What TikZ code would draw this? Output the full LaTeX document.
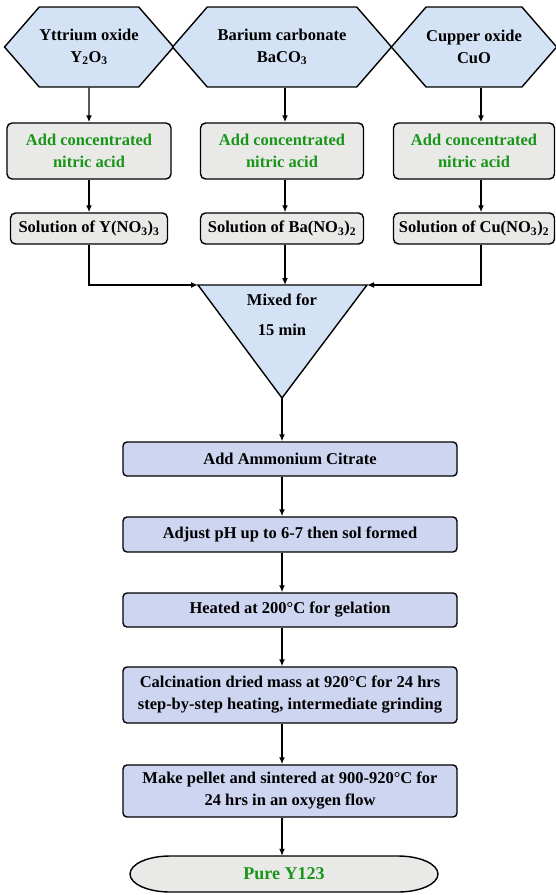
\documentclass[tikz,border=0pt]{standalone}
\usepackage{fontspec}
\setmainfont{Liberation Serif}
\usetikzlibrary{shapes.symbols}
\usetikzlibrary{arrows.meta}
\definecolor{hexblue}{RGB}{212,226,245}
\definecolor{stonegray}{RGB}{233,233,231}
\definecolor{lavblue}{RGB}{206,213,240}
\definecolor{acidgreen}{RGB}{25,150,25}
\tikzstyle{base}=[draw, line width=1.4pt, inner sep=0pt, align=center, font=\bfseries\fontsize{16.5}{22}\selectfont]
\tikzstyle{oxide}=[base, fill=hexblue, signal, signal to=west and east, signal pointer angle=98, minimum height=80pt]
\tikzstyle{acid}=[base, fill=stonegray, rounded corners=5pt, minimum height=56pt, text=acidgreen]
\tikzstyle{solution}=[base, fill=stonegray, rounded corners=5pt, minimum height=31pt]
\tikzstyle{stage}=[base, fill=lavblue, rounded corners=4pt, minimum width=334pt, minimum height=34pt]
\tikzstyle{flow}=[line width=1.4pt, -{Latex[length=7pt,width=6pt]}]

\begin{document}
\begin{tikzpicture}[x=1pt, y=-1pt]
        \useasboundingbox (0,0) rectangle (555,895);
        % starting oxides
        \node[oxide, minimum width=166pt] (Y2O3)  at (89, 47)  {Yttrium oxide\\Y\textsubscript{2}O\textsubscript{3}};
        \node[oxide, minimum width=219pt] (BaCO3) at (282, 47) {Barium carbonate\\BaCO\textsubscript{3}};
        \node[oxide, minimum width=163pt] (CuO)   at (474, 47) {Cupper oxide\\CuO};
        % nitric acid
        \node[acid, minimum width=164pt] (acidY)  at (89, 151)  {Add concentrated\\nitric acid};
        \node[acid, minimum width=163pt] (acidBa) at (282, 151) {Add concentrated\\nitric acid};
        \node[acid, minimum width=161pt] (acidCu) at (474, 151) {Add concentrated\\nitric acid};
        % nitrate solutions
        \node[solution, minimum width=157pt] (solY)  at (89, 228.5)  {Solution of Y(NO\textsubscript{3})\textsubscript{3}};
        \node[solution, minimum width=163pt] (solBa) at (282, 228.5) {Solution of Ba(NO\textsubscript{3})\textsubscript{2}};
        \node[solution, minimum width=161pt] (solCu) at (474, 228.5) {Solution of Cu(NO\textsubscript{3})\textsubscript{2}};
        \coordinate (colBa) at (285, 0);
        \coordinate (colCu) at (481, 0);
        \draw[flow] (Y2O3) -- (acidY);
        \draw[flow] (BaCO3.south -| colBa) -- (acidBa.north -| colBa);
        \draw[flow] (CuO.south -| colCu) -- (acidCu.north -| colCu);
        \draw[flow] (acidY) -- (solY);
        \draw[flow] (acidBa.south -| colBa) -- (solBa.north -| colBa);
        \draw[flow] (acidCu.south -| colCu) -- (solCu.north -| colCu);
        % mixing
        \coordinate (mixL) at (198, 285);
        \coordinate (mixR) at (367, 285);
        \coordinate (mixB) at (282, 398);
        \draw[line width=1.4pt, fill=hexblue] (mixL) -- (mixR) -- (mixB) -- cycle;
        \node[align=center, font=\bfseries\fontsize{16.5}{22}\selectfont] (mix) at (282, 315) {Mixed for\\[8pt]15 min};
        \draw[flow] (solY.south) |- (mixL);
        \draw[flow] (solCu.south -| colCu) |- (mixR);
        \draw[flow] (solBa.south -| colBa) -- (mixL -| colBa);
        % sol-gel route
        \node[stage] (citrate) at (290, 459) {Add Ammonium Citrate};
        \node[stage, minimum height=35pt] (sol) at (290, 534.5) {Adjust pH up to 6-7 then sol formed};
        \node[stage] (gel) at (290, 610) {Heated at 200°C for gelation};
        \node[stage, minimum height=56pt] (calc) at (290, 695) {Calcination dried mass at 920°C for 24 hrs\\step-by-step heating, intermediate grinding};
        \node[stage, minimum height=52pt] (pellet) at (290, 791) {Make pellet and sintered at 900-920°C for\\24 hrs in an oxygen flow};
        \draw[flow] (mixB) -- (mixB |- citrate.north);
        \draw[flow] (citrate.south -| mixB) -- (sol.north -| mixB);
        \draw[flow] (sol.south -| mixB) -- (gel.north -| mixB);
        \draw[flow] (gel.south -| mixB) -- (calc.north -| mixB);
        \draw[flow] (calc.south -| mixB) -- (pellet.north -| mixB);
        % product
        \draw[line width=1.4pt, fill=stonegray] (170, 856) -- (398, 856)
            arc[start angle=90, end angle=-90, x radius=40pt, y radius=18pt] -- (170, 892)
            arc[start angle=270, end angle=90, x radius=40pt, y radius=18pt] -- cycle;
        \node[inner sep=0pt, minimum width=308pt, minimum height=36pt, text=acidgreen, font=\bfseries\fontsize{18}{22}\selectfont] (pure) at (284, 874) {Pure Y123};
        \draw[flow] (pellet.south -| mixB) -- (pure.north -| mixB);
\end{tikzpicture}
\end{document}
